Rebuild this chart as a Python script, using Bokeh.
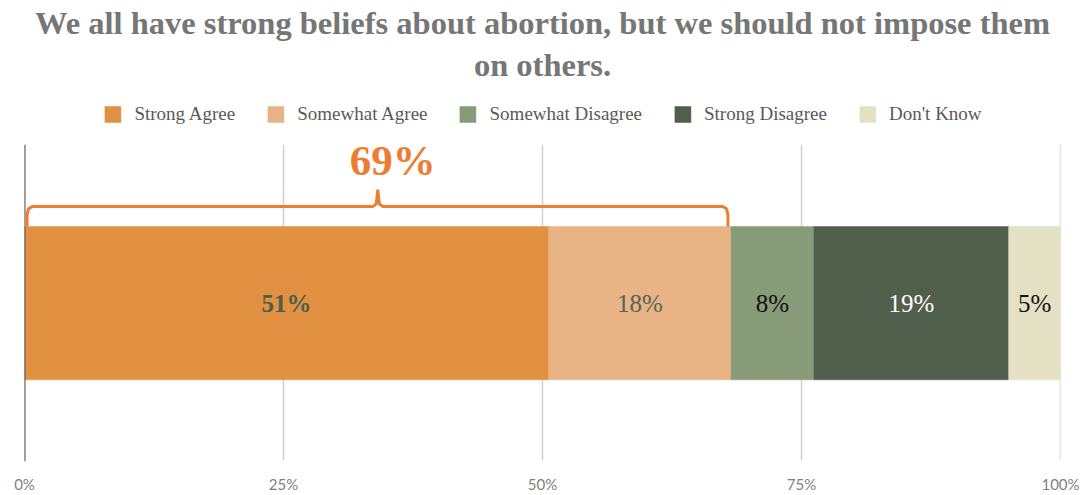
from bokeh.plotting import figure
from bokeh.models import (Range1d, FixedTicker, Legend, LegendItem, Label, ColumnDataSource)
from bokeh.core.properties import value
from bokeh.embed import file_html
from bokeh.resources import INLINE

# ---- data ----
title_lines = ["We all have strong beliefs about abortion, but we should not impose them",
               "on others."]
categories = ["Strong Agree", "Somewhat Agree", "Somewhat Disagree", "Strong Disagree", "Don't Know"]
shares = [50.6, 17.6, 8.0, 18.8, 5.0]
share_labels = ["51%", "18%", "8%", "19%", "5%"]
colors = ["#E29142", "#E8B385", "#879B78", "#4F5F4B", "#E4E0C3"]
label_colors = ["#4C5E49", "#5A6652", "#111111", "#FFFFFF", "#111111"]
label_styles = ["bold", "normal", "normal", "normal", "normal"]
agree_label = "69%"
x_ticks = [0, 25, 50, 75, 100]
x_tick_labels = ["0%", "25%", "50%", "75%", "100%"]

SERIF = "Liberation Serif"

# layout: plot region (data y 0..1) spans figure px 145..463; frame spans 0..463
FR_BOTTOM = 463
FR_TOP_DATA = 145
unit = FR_BOTTOM - FR_TOP_DATA


def ypx(px):
    return (FR_BOTTOM - px) / unit


p = figure(width=1086, height=495, output_backend="svg", toolbar_location=None,
           title=None, x_range=Range1d(0, 100), y_range=Range1d(0, ypx(0)),
           y_axis_location=None,
           min_border_left=24, min_border_right=26, min_border_top=0, min_border_bottom=32)
p.outline_line_color = None
p.background_fill_color = "white"
p.border_fill_color = "white"

# x axis
p.xaxis.ticker = FixedTicker(ticks=x_ticks)
p.xaxis.major_label_overrides = {t: l for t, l in zip(x_ticks, x_tick_labels)}
p.xaxis.axis_line_color = None
p.xaxis.major_tick_line_color = None
p.xaxis.minor_tick_line_color = None
p.xaxis.major_tick_out = 0
p.xaxis.major_tick_in = 0
p.xaxis.minor_tick_out = 0
p.xaxis.major_label_standoff = 13
p.xaxis.major_label_text_font = "Lato"
p.xaxis.major_label_text_font_size = "15px"
p.xaxis.major_label_text_color = "#7F7F7F"
p.xgrid.grid_line_color = None
p.ygrid.grid_line_color = None

# gridlines limited to the plot region
p.segment(x0=x_ticks, x1=x_ticks, y0=ypx(462), y1=1, line_color="#D0D0D0", line_width=1.5)

# stacked bar
lefts = []
acc = 0.0
for s in shares:
    lefts.append(acc)
    acc += s
rights = [l + s for l, s in zip(lefts, shares)]
bar_y = 0.5
bar_h = 0.484

items = []
for i, cat in enumerate(categories):
    r = p.hbar(y=[bar_y], left=[lefts[i]], right=[rights[i]], height=bar_h,
               fill_color=colors[i], line_color=colors[i], line_width=0.5)
    items.append(LegendItem(label=cat, renderers=[r]))

src = ColumnDataSource(dict(x=[l + s / 2 for l, s in zip(lefts, shares)],
                            y=[bar_y] * len(shares), t=share_labels,
                            c=label_colors, st=label_styles))
p.text(x="x", y="y", text="t", source=src, text_color="c", text_font_style="st",
       text_font=value(SERIF), text_font_size="25px", text_align="center",
       text_baseline="middle")

# axis line at 0
p.segment(x0=[x_ticks[0]], x1=[x_ticks[0]], y0=[ypx(463)], y1=[1], line_color="#555555",
          line_width=2)

# bracket over agree categories
agree_total = shares[0] + shares[1]
bar_top = bar_y + bar_h / 2
by = ypx(207)
peak = ypx(190)
x0 = 0.25
x1 = agree_total - 0.3
mid = agree_total / 2
bx = [x0, x0, x0 + 0.15, x0 + 0.5,
      mid - 0.5, mid - 0.15, mid, mid + 0.15, mid + 0.5,
      x1 - 0.5, x1 - 0.15, x1, x1]
byy = [bar_top, by - 0.025, by - 0.006, by,
       by, by + 0.008, peak, by + 0.008, by,
       by, by - 0.006, by - 0.025, bar_top]
p.line(bx, byy, line_color="#ED7D31", line_width=3)
p.add_layout(Label(x=mid, y=ypx(161), text=agree_label, x_offset=15,
                   text_font=SERIF, text_font_style="bold", text_font_size="43px",
                   text_color="#ED7D31", text_align="center", text_baseline="middle"))

# legend
legend = Legend(items=items, orientation="horizontal", location="top_center",
                glyph_width=20, glyph_height=20, label_standoff=12, spacing=30,
                label_text_font=SERIF, label_text_font_size="19px",
                label_text_color="#595959", border_line_color=None,
                background_fill_alpha=0, padding=4, margin=103)
p.add_layout(legend, "center")

# title
for line, ypos in zip(title_lines, [23, 65]):
    p.add_layout(Label(x=50, y=ypx(ypos), text=line, text_font=SERIF,
                       text_font_style="bold", text_font_size="32.5px",
                       text_color="#767676", text_align="center",
                       text_baseline="middle"))

open("out.html", "w").write(file_html(p, INLINE))
